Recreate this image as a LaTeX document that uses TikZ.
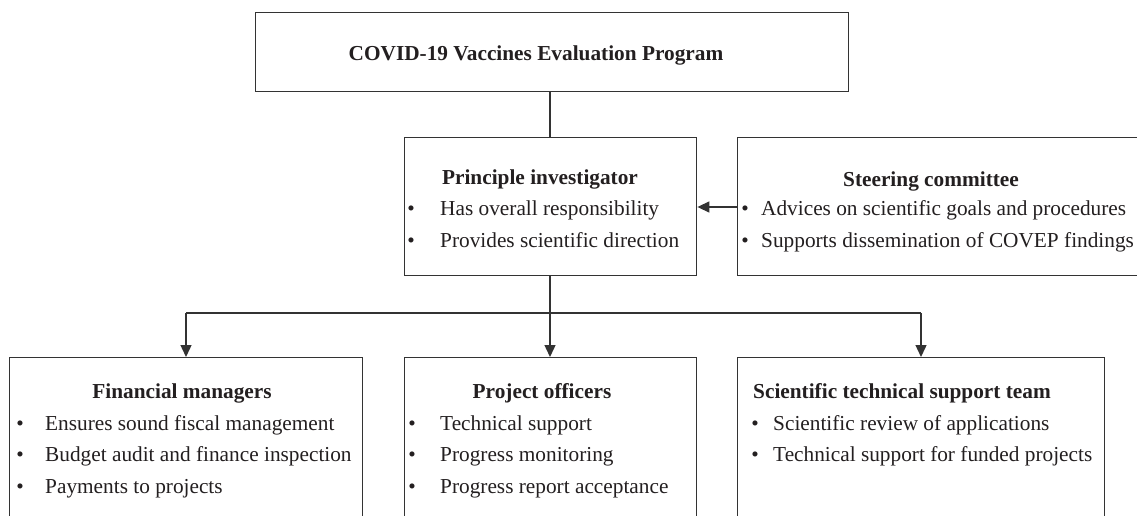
\documentclass[tikz,border=0pt]{standalone}
\usepackage{fontspec}
\setmainfont{Liberation Serif}
\usetikzlibrary{arrows.meta}
\definecolor{lncol}{HTML}{333333}
\definecolor{txcol}{HTML}{231F20}
\tikzset{
  box/.style={draw=lncol, line width=1.4pt, anchor=north west, inner sep=0pt},
  conn/.style={draw=lncol, line width=1.4pt},
  arr/.style={conn, -{Triangle[length=12pt,width=11pt]}},
  ttl/.style={font=\fontsize{21.3}{24}\selectfont\bfseries, text=txcol, inner sep=0pt, anchor=base},
  itm/.style={font=\fontsize{21.3}{24}\selectfont, text=txcol, inner sep=0pt, anchor=base west},
  bul/.style={font=\fontsize{21.3}{24}\selectfont, text=txcol, inner sep=0pt, anchor=base},
}
\begin{document}
\begin{tikzpicture}[x=1pt,y=-1pt]
\useasboundingbox (0,0) rectangle (1137,516);
\fill[white] (0,0) rectangle (1137,516);
\clip (0,0) rectangle (1137,516);
% boxes
\node[box, minimum width=593pt, minimum height=79pt] (top) at (255,12) {};
\node[box, minimum width=292pt, minimum height=138pt] (pi) at (404,137) {};
\node[box, minimum width=420pt, minimum height=138pt] (sc) at (737,137) {};
\node[box, minimum width=353pt, minimum height=200pt] (fm) at (9,357) {};
\node[box, minimum width=292pt, minimum height=200pt] (po) at (404,357) {};
\node[box, minimum width=367pt, minimum height=200pt] (st) at (737,357) {};
% texts
\node[ttl] (toptx) at (536,61) {COVID-19 Vaccines Evaluation Program};
\node[ttl] (pit) at (540,184) {Principle investigator};
\node[bul] (pib1) at (411,215) {•};
\node[itm] (pi1) at (440,215) {Has overall responsibility};
\node[bul] (pib2) at (411,247) {•};
\node[itm] (pi2) at (440,247) {Provides scientific direction};
\node[ttl] (sct) at (931,186) {Steering committee};
\node[bul] (scb1) at (745,215) {•};
\node[itm] (sc1) at (761,215) {Advices on scientific goals and procedures};
\node[bul] (scb2) at (745,247) {•};
\node[itm] (sc2) at (761,247) {Supports dissemination of COVEP findings};
\node[ttl] (fmt) at (182,398) {Financial managers};
\node[bul] (fmb1) at (20,430) {•};
\node[itm] (fm1) at (45,430) {Ensures sound fiscal management};
\node[bul] (fmb2) at (20,461.5) {•};
\node[itm] (fm2) at (45,461.5) {Budget audit and finance inspection};
\node[bul] (fmb3) at (20,493) {•};
\node[itm] (fm3) at (45,493) {Payments to projects};
\node[ttl] (pot) at (542,398) {Project officers};
\node[bul] (pob1) at (412,430) {•};
\node[itm] (po1) at (440,430) {Technical support};
\node[bul] (pob2) at (412,461.5) {•};
\node[itm] (po2) at (440,461.5) {Progress monitoring};
\node[bul] (pob3) at (412,493) {•};
\node[itm] (po3) at (440,493) {Progress report acceptance};
\node[ttl, anchor=base west] (stt) at (753,398) {Scientific technical support team};
\node[bul] (stb1) at (755,430) {•};
\node[itm] (st1) at (773,430) {Scientific review of applications};
\node[bul] (stb2) at (755,461.5) {•};
\node[itm] (st2) at (773,461.5) {Technical support for funded projects};
% connectors
\coordinate (bus) at (550,313);
\draw[conn] (top.south -| bus) -- (pi.north -| bus);
\draw[arr] (sc.west |- 0,207) -- (pi.east |- 0,207);
\draw[arr] (pi.south -| bus) -- (po.north -| bus);
\coordinate (busl) at (186,313);
\coordinate (busr) at (921,313);
\draw[conn] (busl) -- (busr);
\draw[arr] (busl) -- (fm.north -| busl);
\draw[arr] (busr) -- (st.north -| busr);
\end{tikzpicture}
\end{document}
